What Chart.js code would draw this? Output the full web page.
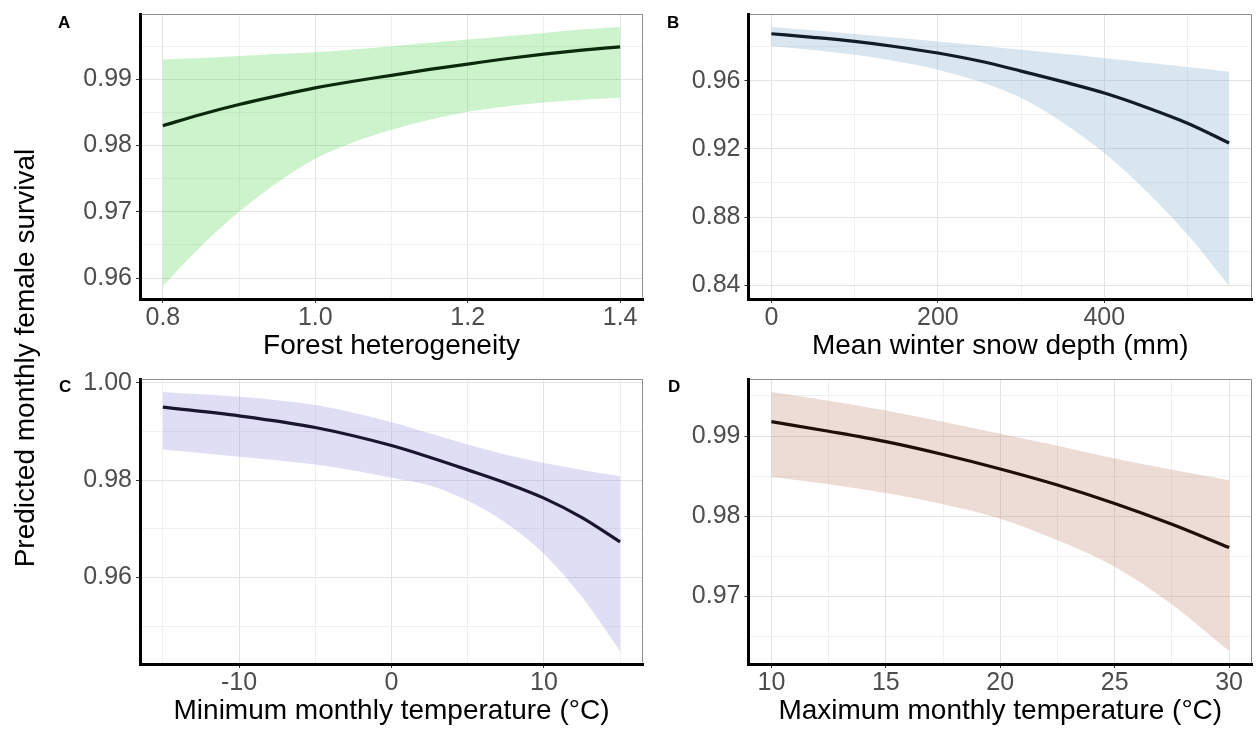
<!DOCTYPE html>
<html>
<head>
<meta charset="utf-8">
<script src="https://cdn.jsdelivr.net/npm/chart.js@4.4.1/dist/chart.umd.min.js"></script>
<style>
  html, body { margin: 0; padding: 0; background: #fff; }
  #fig { position: relative; width: 1259px; height: 740px; overflow: hidden;
         font-family: "Liberation Sans", Arial, sans-serif; }
  #fig canvas { position: absolute; }
  .tag { position: absolute; font-weight: bold; font-size: 17px; line-height: 17px; color: #000; }
  #ytitle { position: absolute; left: -204.6px; top: 343.5px; width: 460px; height: 28px;
            line-height: 28px; font-size: 28px; text-align: center; color: #000;
            transform: rotate(-90deg); white-space: nowrap; }
</style>
</head>
<body>
<div id="fig">
  <canvas id="panelA" width="650" height="370" style="left:0px;top:0px"></canvas>
  <canvas id="panelB" width="609" height="370" style="left:650px;top:0px"></canvas>
  <canvas id="panelC" width="650" height="390" style="left:0px;top:350px"></canvas>
  <canvas id="panelD" width="609" height="390" style="left:650px;top:350px"></canvas>
  <div class="tag" style="left:58px;top:13.6px">A</div>
  <div class="tag" style="left:667px;top:13.6px">B</div>
  <div class="tag" style="left:59px;top:377.6px">C</div>
  <div class="tag" style="left:668px;top:378px">D</div>
  <div id="ytitle">Predicted monthly female survival</div>
</div>
<script>
// A: forest heterogeneity
const forestX     = [0.8, 0.85, 0.9, 0.95, 1.0, 1.05, 1.1, 1.15, 1.2, 1.25, 1.3, 1.35, 1.4];
const forestFit   = [0.9830, 0.9847, 0.9862, 0.9875, 0.9887, 0.9897, 0.9906, 0.9915, 0.9923, 0.9931, 0.9938, 0.9944, 0.9949];
const forestUpper = [0.9930, 0.9932, 0.9935, 0.9938, 0.9941, 0.9945, 0.9950, 0.9955, 0.9960, 0.9965, 0.9970, 0.9975, 0.9979];
const forestLower = [0.9588, 0.9648, 0.9700, 0.9744, 0.9780, 0.9805, 0.9824, 0.9839, 0.9851, 0.9859, 0.9865, 0.9869, 0.9872];
const forestXTicks  = [0.8, 1.0, 1.2, 1.4];
const forestXLabels = ['0.8', '1.0', '1.2', '1.4'];
const forestYTicks  = [0.96, 0.97, 0.98, 0.99];
const forestYLabels = ['0.96', '0.97', '0.98', '0.99'];

// B: mean winter snow depth
const snowX     = [0, 50, 100, 150, 200, 250, 300, 350, 400, 450, 500, 550];
const snowFit   = [0.9876, 0.9855, 0.9831, 0.9800, 0.9763, 0.9716, 0.9657, 0.9595, 0.9528, 0.9445, 0.9351, 0.9235];
const snowUpper = [0.9916, 0.9896, 0.9875, 0.9853, 0.9831, 0.9807, 0.9782, 0.9758, 0.9733, 0.9708, 0.9681, 0.9653];
const snowLower = [0.9802, 0.9781, 0.9753, 0.9714, 0.9665, 0.9595, 0.9500, 0.9355, 0.9176, 0.8955, 0.8698, 0.8395];
const snowXTicks  = [0, 200, 400];
const snowXLabels = ['0', '200', '400'];
const snowYTicks  = [0.84, 0.88, 0.92, 0.96];
const snowYLabels = ['0.84', '0.88', '0.92', '0.96'];

// C: minimum monthly temperature
const tminX     = [-15, -10, -5, 0, 2.5, 5, 7.5, 10, 12.5, 15];
const tminFit   = [0.9950, 0.9932, 0.9908, 0.9871, 0.9847, 0.9821, 0.9794, 0.9763, 0.9723, 0.9673];
const tminUpper = [0.9981, 0.9971, 0.9954, 0.9919, 0.9896, 0.9873, 0.9852, 0.9835, 0.9821, 0.9808];
const tminLower = [0.9863, 0.9848, 0.9832, 0.9805, 0.9789, 0.9758, 0.9712, 0.9649, 0.9560, 0.9449];
const tminXTicks  = [-10, 0, 10];
const tminXLabels = ['-10', '0', '10'];
const tminYTicks  = [0.96, 0.98, 1.00];
const tminYLabels = ['0.96', '0.98', '1.00'];

// D: maximum monthly temperature
const tmaxX     = [10, 12.5, 15, 17.5, 20, 22.5, 25, 27.5, 30];
const tmaxFit   = [0.9918, 0.9906, 0.9893, 0.9877, 0.9859, 0.9839, 0.9816, 0.9790, 0.9761];
const tmaxUpper = [0.9955, 0.9944, 0.9932, 0.9918, 0.9903, 0.9888, 0.9872, 0.9858, 0.9845];
const tmaxLower = [0.9849, 0.9840, 0.9829, 0.9815, 0.9797, 0.9770, 0.9737, 0.9690, 0.9632];
const tmaxXTicks  = [10, 15, 20, 25, 30];
const tmaxXLabels = ['10', '15', '20', '25', '30'];
const tmaxYTicks  = [0.97, 0.98, 0.99];
const tmaxYLabels = ['0.97', '0.98', '0.99'];

const FONT = '"Liberation Sans", Arial, sans-serif';
const MAJOR_GRID = '#e3e3e3';
const MINOR_GRID = '#f0f0f0';

// 5% padding on each side of the data range
function expand(lo, hi) {
  const d = (hi - lo) * 0.05;
  return [lo - d, hi + d];
}

// major breaks plus minor breaks half-way between them, kept inside the range
function buildTicks(major, lo, hi) {
  const step = major[1] - major[0];
  const out = major.map(v => ({ value: v }));
  let v = major[0] - step / 2;
  while (v - step >= lo) v -= step;
  for (; v <= hi + 1e-12; v += step) {
    if (v >= lo - 1e-12) out.push({ value: +v.toFixed(8), minor: true });
  }
  return out.sort((a, b) => a.value - b.value);
}

function labeller(major, labels) {
  return function (value, index, ticks) {
    const t = ticks[index];
    if (t && t.minor) return '';
    const i = major.findIndex(m => Math.abs(m - value) < 1e-9);
    return i >= 0 ? labels[i] : '';
  };
}

const gridStyle = {
  color: ctx => (ctx.tick && ctx.tick.minor) ? MINOR_GRID : MAJOR_GRID,
  lineWidth: 1,
  tickColor: ctx => (ctx.tick && ctx.tick.minor) ? 'rgba(0,0,0,0)' : '#333333',
  tickLength: 4,
  tickWidth: 1,
  drawTicks: true
};

// thin grey frame on the top and right of each panel
const panelFrame = {
  id: 'panelFrame',
  afterDraw(chart) {
    const { ctx, chartArea: a } = chart;
    ctx.save();
    ctx.strokeStyle = '#8f8f8f';
    ctx.lineWidth = 1;
    ctx.beginPath();
    ctx.moveTo(a.left + 1.5, a.top + 0.5);
    ctx.lineTo(a.right - 0.5, a.top + 0.5);
    ctx.lineTo(a.right - 0.5, a.bottom - 1.5);
    ctx.stroke();
    ctx.restore();
  }
};

function makePanel(p) {
  const [xMin, xMax] = expand(Math.min(...p.x), Math.max(...p.x));
  const [yMin, yMax] = expand(Math.min(...p.lower), Math.max(...p.upper));
  const xTickObjs = buildTicks(p.xTicks, xMin, xMax);
  const yTickObjs = buildTicks(p.yTicks, yMin, yMax);
  const pts = arr => p.x.map((x, i) => ({ x: x, y: arr[i] }));

  new Chart(document.getElementById(p.id), {
    type: 'line',
    data: {
      datasets: [
        { data: pts(p.fit), borderColor: p.lineColor, borderWidth: 3.2, borderCapStyle: 'butt',
          pointRadius: 0, fill: false, cubicInterpolationMode: 'monotone', order: 0 },
        { data: pts(p.upper), borderWidth: 0, borderColor: 'rgba(0,0,0,0)', pointRadius: 0,
          backgroundColor: p.band, fill: '+1', cubicInterpolationMode: 'monotone', order: 1 },
        { data: pts(p.lower), borderWidth: 0, borderColor: 'rgba(0,0,0,0)', pointRadius: 0,
          fill: false, cubicInterpolationMode: 'monotone', order: 2 }
      ]
    },
    options: {
      responsive: false,
      animation: false,
      devicePixelRatio: 1,
      events: [],
      layout: { autoPadding: false, padding: { left: 0, top: p.padTop, right: p.padRight, bottom: 0 } },
      plugins: { legend: { display: false }, tooltip: { enabled: false } },
      scales: {
        x: {
          type: 'linear', position: 'bottom', min: xMin, max: xMax,
          afterBuildTicks: s => { s.ticks = xTickObjs.map(t => Object.assign({}, t)); },
          afterFit: s => { s.height = p.xAxisHeight; s.paddingLeft = 0; s.paddingRight = 0; },
          ticks: { autoSkip: false, maxRotation: 0, minRotation: 0, padding: 0, color: '#4d4d4d',
                   font: { family: FONT, size: 25 }, callback: labeller(p.xTicks, p.xLabels) },
          grid: gridStyle,
          border: { display: true, color: '#000', width: 3 },
          title: { display: true, text: p.xTitle, color: '#000', font: { family: FONT, size: 28 },
                   padding: { top: 0, bottom: p.titlePad } }
        },
        y: {
          type: 'linear', position: 'left', min: yMin, max: yMax,
          afterBuildTicks: s => { s.ticks = yTickObjs.map(t => Object.assign({}, t)); },
          afterFit: s => { s.width = p.yAxisWidth; s.paddingTop = 0; s.paddingBottom = 0; },
          ticks: { autoSkip: false, padding: 4, color: '#4d4d4d',
                   font: { family: FONT, size: 25 }, callback: labeller(p.yTicks, p.yLabels) },
          grid: gridStyle,
          border: { display: true, color: '#000', width: 3 }
        }
      }
    },
    plugins: [panelFrame]
  });
}

makePanel({ id: 'panelA', x: forestX, fit: forestFit, upper: forestUpper, lower: forestLower,
  xTicks: forestXTicks, xLabels: forestXLabels, yTicks: forestYTicks, yLabels: forestYLabels,
  xTitle: 'Forest heterogeneity', band: 'rgba(88,215,88,0.30)', lineColor: '#0b2a0b',
  padTop: 14, padRight: 7, yAxisWidth: 140, xAxisHeight: 71, titlePad: 7 });

makePanel({ id: 'panelB', x: snowX, fit: snowFit, upper: snowUpper, lower: snowLower,
  xTicks: snowXTicks, xLabels: snowXLabels, yTicks: snowYTicks, yLabels: snowYLabels,
  xTitle: 'Mean winter snow depth (mm)', band: 'rgba(128,168,202,0.30)', lineColor: '#111c26',
  padTop: 14, padRight: 7, yAxisWidth: 98.5, xAxisHeight: 71, titlePad: 7 });

makePanel({ id: 'panelC', x: tminX, fit: tminFit, upper: tminUpper, lower: tminLower,
  xTicks: tminXTicks, xLabels: tminXLabels, yTicks: tminYTicks, yLabels: tminYLabels,
  xTitle: 'Minimum monthly temperature (°C)', band: 'rgba(152,145,222,0.30)', lineColor: '#1b1630',
  padTop: 29, padRight: 7, yAxisWidth: 140, xAxisHeight: 76, titlePad: 12 });

makePanel({ id: 'panelD', x: tmaxX, fit: tmaxFit, upper: tmaxUpper, lower: tmaxLower,
  xTicks: tmaxXTicks, xLabels: tmaxXLabels, yTicks: tmaxYTicks, yLabels: tmaxYLabels,
  xTitle: 'Maximum monthly temperature (°C)', band: 'rgba(195,138,115,0.30)', lineColor: '#1e0f08',
  padTop: 29, padRight: 7, yAxisWidth: 98.5, xAxisHeight: 76, titlePad: 12 });
</script>
</body>
</html>
